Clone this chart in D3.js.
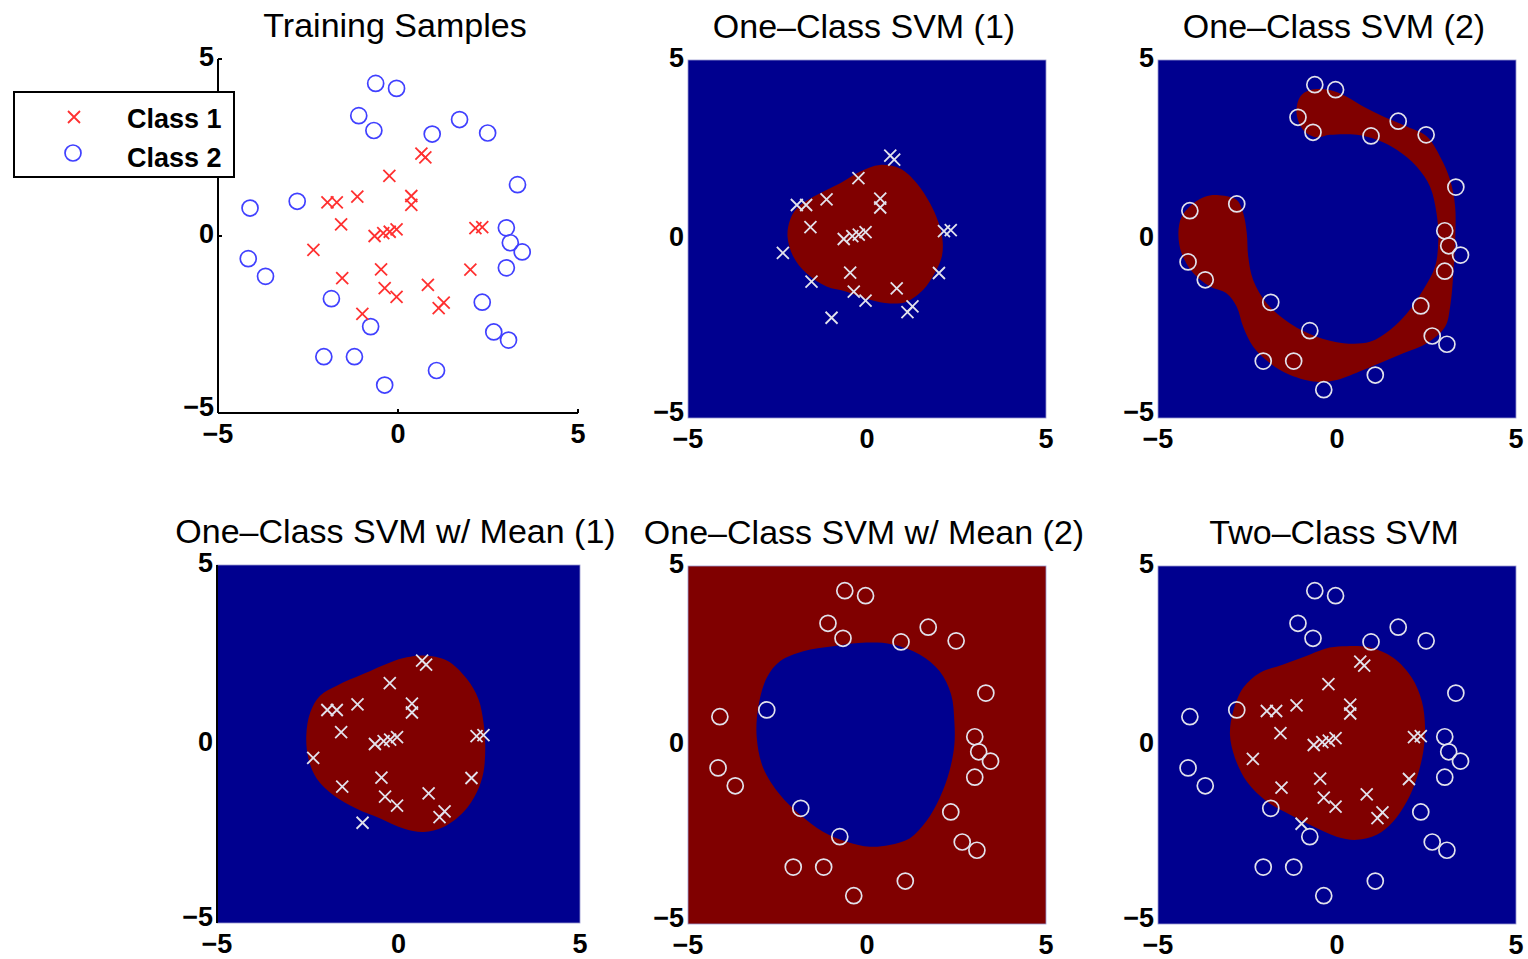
<!DOCTYPE html>
<html>
<head>
<meta charset="utf-8">
<script src="https://cdn.jsdelivr.net/npm/d3@7"></script>
<style>
  html, body { margin: 0; padding: 0; background: #ffffff; }
  svg { display: block; }
</style>
</head>
<body>
<svg id="chart" width="1528" height="959"></svg>
<script>
// ---------------- Data ----------------
const tickValues = [-5, 0, 5];
const tickLabels = ["\u22125", "0", "5"];

const titles = [
  "Training Samples",
  "One\u2013Class SVM (1)",
  "One\u2013Class SVM (2)",
  "One\u2013Class SVM w/ Mean (1)",
  "One\u2013Class SVM w/ Mean (2)",
  "Two\u2013Class SVM"
];

const legendLabels = ["Class 1", "Class 2"];

// Class 1 samples (crosses)
const class1X = [0.65, 0.76, -0.24, 0.37, 0.37, -1.13, -1.96, -1.70, -1.58, -0.65, -0.41, -0.23, -0.04,
                 2.15, 2.34, -2.35, -0.47, -1.55, -0.37, -0.04, 0.83, 1.27, 1.13, 2.01, -0.99];
const class1Y = [2.33, 2.22, 1.70, 1.13, 0.88, 1.11, 0.95, 0.95, 0.33, 0.00, 0.08, 0.12, 0.19,
                 0.22, 0.25, -0.39, -0.94, -1.19, -1.47, -1.72, -1.38, -1.88, -2.04, -0.95, -2.20];

// Class 2 samples (circles)
const class2X = [-0.62, -0.04, -1.09, -0.67, 0.95, 1.71, 2.49, 3.32, -4.11, -2.80, 3.01, 3.12, 3.45,
                 3.01, -4.16, -3.68, -1.85, 2.34, -0.76, 2.66, 3.07, -2.06, -1.21, 1.07, -0.37];
const class2Y = [4.31, 4.17, 3.40, 2.98, 2.88, 3.29, 2.91, 1.45, 0.79, 0.98, 0.23, -0.19, -0.45,
                 -0.90, -0.64, -1.14, -1.77, -1.87, -2.56, -2.71, -2.94, -3.41, -3.41, -3.80, -4.21];

// Decision-region boundaries (data coordinates)
const region1X = [0.36, 0.92, 1.39, 1.76, 1.99, 2.11, 2.09, 1.89, 1.57, 1.11, 0.64, 0.08, -0.57, -1.13,
                  -1.69, -2.06, -2.22, -2.15, -1.96, -1.50, -0.75, -0.20];
const region1Y = [2.07, 1.97, 1.56, 1.00, 0.48, -0.03, -0.49, -0.96, -1.42, -1.75, -1.80, -1.70, -1.47, -1.33,
                  -0.96, -0.49, 0.07, 0.53, 0.86, 1.18, 1.56, 1.88];

const region2X = [-3.36, -2.80, -2.62, -2.52, -2.48, -2.34, -1.96, -1.31, -0.57, 0.18, 0.92, 1.48, 1.95, 2.41,
                  2.74, 2.83, 2.78, 2.60, 2.23, 1.67, 1.11, 0.55, -0.20, -0.57, -0.94, -1.13, -1.03, -0.75,
                  -0.20, 0.27, 0.73, 1.29, 1.95, 2.51, 2.88, 3.16, 3.30, 3.30, 3.25, 3.16, 3.02, 2.51, 1.85,
                  1.29, 0.73, -0.01, -0.57, -1.31, -1.87, -2.34, -2.62, -2.80, -3.08, -3.55, -4.01, -4.34,
                  -4.43, -4.34, -4.01, -3.69];
const region2Y = [1.23, 1.09, 0.72, 0.16, -0.49, -1.15, -1.80, -2.36, -2.73, -2.91, -2.87, -2.54, -2.08, -1.42,
                  -0.77, -0.03, 0.72, 1.46, 2.02, 2.49, 2.77, 2.91, 2.91, 2.84, 3.04, 3.51, 3.97, 4.16,
                  4.16, 3.97, 3.70, 3.42, 3.14, 2.86, 2.30, 1.65, 0.90, -0.03, -0.96, -1.89, -2.45, -2.91, -3.19,
                  -3.43, -3.66, -3.94, -3.99, -3.80, -3.47, -3.01, -2.45, -1.89, -1.52, -1.33, -0.96, -0.40,
                  0.16, 0.62, 1.00, 1.18];

const region3X = [0.69, 1.33, 1.88, 2.20, 2.34, 2.39, 2.34, 2.16, 1.79, 1.24, 0.69, 0.14, -0.50, -1.15,
                  -1.79, -2.25, -2.48, -2.54, -2.43, -2.16, -1.70, -0.96, -0.23, 0.23];
const region3Y = [2.47, 2.33, 1.82, 1.26, 0.61, -0.04, -0.79, -1.34, -1.90, -2.32, -2.46, -2.36, -2.08, -1.81,
                  -1.43, -0.97, -0.41, 0.24, 0.89, 1.35, 1.63, 1.96, 2.28, 2.42];

const region4X = [-0.02, 0.72, 1.47, 2.03, 2.35, 2.44, 2.44, 2.30, 2.03, 1.65, 1.19, 0.63, 0.08, -0.57,
                  -1.23, -1.87, -2.43, -2.90, -3.08, -3.04, -2.80, -2.43, -1.78, -0.95];
const region4Y = [2.86, 2.81, 2.53, 2.06, 1.41, 0.66, 0.01, -0.74, -1.48, -2.14, -2.61, -2.79, -2.84, -2.70,
                  -2.42, -1.95, -1.39, -0.64, 0.20, 1.04, 1.88, 2.34, 2.62, 2.76];

const region5X = [0.27, 0.92, 1.57, 2.09, 2.37, 2.46, 2.41, 2.23, 1.95, 1.57, 1.11, 0.55, -0.01, -0.66,
                  -1.31, -1.96, -2.52, -2.85, -2.99, -2.90, -2.62, -2.15, -1.50, -0.75, -0.20];
const region5Y = [2.76, 2.72, 2.44, 1.88, 1.22, 0.48, -0.18, -0.92, -1.58, -2.14, -2.51, -2.65, -2.56, -2.28,
                  -1.95, -1.58, -1.02, -0.36, 0.29, 0.94, 1.60, 2.02, 2.25, 2.53, 2.72];

// ---------------- Styles / layout ----------------
const BLUE_BG = "#00008f";
const RED_BG = "#800000";
const PT_WHITE = "#e2e2ec";
const RED_PT = "#ff3030";
const BLUE_PT = "#4040ff";

const panels = [
  { box: [218, 59, 578, 413], title: titles[0], kind: "train" },
  { box: [688, 60, 1046, 418], title: titles[1], bg: BLUE_BG, fg: RED_BG, rx: region1X, ry: region1Y, pts: [1] },
  { box: [1158, 60, 1516, 418], title: titles[2], bg: BLUE_BG, fg: RED_BG, rx: region2X, ry: region2Y, pts: [2] },
  { box: [217, 565, 580, 923], title: titles[3], bg: BLUE_BG, fg: RED_BG, rx: region3X, ry: region3Y, pts: [1], leftAxis: true },
  { box: [688, 566, 1046, 924], title: titles[4], bg: RED_BG, fg: BLUE_BG, rx: region4X, ry: region4Y, pts: [2] },
  { box: [1158, 566, 1516, 924], title: titles[5], bg: BLUE_BG, fg: RED_BG, rx: region5X, ry: region5Y, pts: [1, 2] }
];

const svg = d3.select("#chart");
const TICK_FONT = "'Liberation Sans', Arial, Helvetica, sans-serif";

const class1 = class1X.map((x, i) => ({ x, y: class1Y[i] }));
const class2 = class2X.map((x, i) => ({ x, y: class2Y[i] }));

function drawCross(g, data, xs, ys, color, half) {
  g.selectAll(null).data(data).enter().append("path")
    .attr("d", d => {
      const cx = xs(d.x), cy = ys(d.y);
      return `M${cx - half},${cy - half}L${cx + half},${cy + half}M${cx - half},${cy + half}L${cx + half},${cy - half}`;
    })
    .attr("stroke", color).attr("stroke-width", 1.8).attr("fill", "none");
}
function drawCircles(g, data, xs, ys, color, r) {
  g.selectAll(null).data(data).enter().append("circle")
    .attr("cx", d => xs(d.x)).attr("cy", d => ys(d.y)).attr("r", r)
    .attr("fill", "none").attr("stroke", color).attr("stroke-width", 1.7);
}

panels.forEach((p, idx) => {
  const [x0, y0, x1, y1] = p.box;
  const xs = d3.scaleLinear().domain([-5, 5]).range([x0, x1]);
  const ys = d3.scaleLinear().domain([-5, 5]).range([y1, y0]);
  const g = svg.append("g");

  const clipId = "clip" + idx;
  svg.append("clipPath").attr("id", clipId).append("rect")
    .attr("x", x0).attr("y", y0).attr("width", x1 - x0).attr("height", y1 - y0);

  if (p.kind !== "train") {
    g.append("rect").attr("x", x0).attr("y", y0).attr("width", x1 - x0).attr("height", y1 - y0)
      .attr("fill", p.bg).attr("stroke", "#9a9ad0").attr("stroke-width", 0.8);
    const poly = p.rx.map((x, i) => [x, p.ry[i]]);
    const line = d3.line().x(d => xs(d[0])).y(d => ys(d[1])).curve(d3.curveCatmullRomClosed.alpha(0.5));
    g.append("path").attr("d", line(poly)).attr("fill", p.fg).attr("clip-path", `url(#${clipId})`);
    if (p.leftAxis) {
      g.append("line").attr("x1", x0).attr("x2", x0).attr("y1", y0).attr("y2", y1)
        .attr("stroke", "#000").attr("stroke-width", 2);
    }
    const pg = g.append("g").attr("clip-path", `url(#${clipId})`);
    if (p.pts.includes(2)) drawCircles(pg, class2, xs, ys, PT_WHITE, 8);
    if (p.pts.includes(1)) drawCross(pg, class1, xs, ys, PT_WHITE, 6);
  } else {
    g.append("line").attr("x1", x0).attr("x2", x0).attr("y1", y0).attr("y2", y1)
      .attr("stroke", "#000").attr("stroke-width", 2);
    g.append("line").attr("x1", x0).attr("x2", x1).attr("y1", y1).attr("y2", y1)
      .attr("stroke", "#000").attr("stroke-width", 2);
    tickValues.forEach(v => {
      g.append("line").attr("x1", xs(v)).attr("x2", xs(v)).attr("y1", y1).attr("y2", y1 - 4)
        .attr("stroke", "#000").attr("stroke-width", 2);
      g.append("line").attr("x1", x0).attr("x2", x0 + 4).attr("y1", ys(v)).attr("y2", ys(v))
        .attr("stroke", "#000").attr("stroke-width", 2);
    });
    drawCircles(g, class2, xs, ys, BLUE_PT, 8);
    drawCross(g, class1, xs, ys, RED_PT, 6);
  }

  tickValues.forEach((v, i) => {
    g.append("text").attr("x", xs(v)).attr("y", y1 + 23)
      .attr("text-anchor", "middle").attr("dominant-baseline", "middle")
      .attr("font-family", TICK_FONT).attr("font-weight", "bold").attr("font-size", 27)
      .attr("fill", "#000").text(tickLabels[i]);
    g.append("text").attr("x", x0 - 4).attr("y", ys(v) - (v === -5 ? 4 : 0))
      .attr("text-anchor", "end").attr("dominant-baseline", "middle")
      .attr("font-family", TICK_FONT).attr("font-weight", "bold").attr("font-size", 27)
      .attr("fill", "#000").text(tickLabels[i]);
  });

  svg.append("text").attr("x", (x0 + x1) / 2 - 3).attr("y", y0 - 22)
    .attr("text-anchor", "middle")
    .attr("font-family", TICK_FONT).attr("font-size", 34).attr("fill", "#000")
    .text(p.title);
});

// Legend (first panel)
const lg = svg.append("g");
lg.append("rect").attr("x", 14).attr("y", 92).attr("width", 220).attr("height", 85)
  .attr("fill", "#fff").attr("stroke", "#000").attr("stroke-width", 2);
lg.append("path").attr("d", "M68,111L80,123M68,123L80,111").attr("stroke", RED_PT).attr("stroke-width", 1.8);
lg.append("circle").attr("cx", 73).attr("cy", 153).attr("r", 8).attr("fill", "none")
  .attr("stroke", BLUE_PT).attr("stroke-width", 1.7);
legendLabels.forEach((t, i) => {
  lg.append("text").attr("x", 127).attr("y", 128 + i * 39)
    .attr("font-family", TICK_FONT).attr("font-weight", "bold").attr("font-size", 27)
    .attr("fill", "#000").text(t);
});
</script>
</body>
</html>
